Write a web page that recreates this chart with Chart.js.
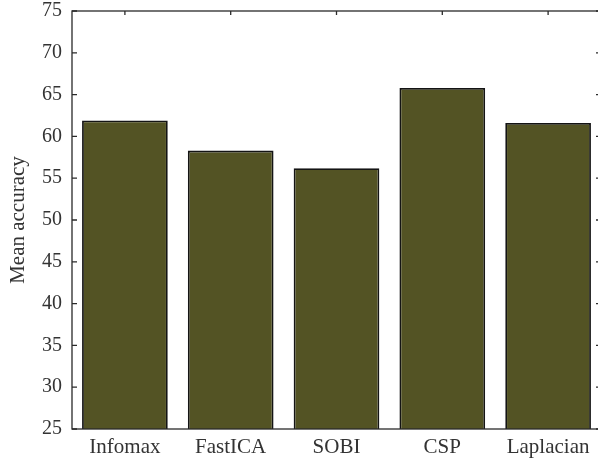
<!DOCTYPE html>
<html>
<head>
<meta charset="utf-8">
<title>Mean accuracy</title>
<script src="https://cdn.jsdelivr.net/npm/chart.js"></script>
<style>
  html, body { margin: 0; padding: 0; overflow: hidden; background: #fff; }
  #wrap { width: 606px; height: 458px; }
</style>
</head>
<body>
<div id="wrap"><canvas id="myChart"></canvas></div>
<script>
const methods = ['Infomax', 'FastICA', 'SOBI', 'CSP', 'Laplacian']
const meanAccuracy = [61.9, 58.3, 56.2, 65.8, 61.6]
const yMin = 25
const yMax = 75
const yStep = 5

const axisColor = '#2a2a2a'
const textColor = '#333'
const serif = { family: 'Liberation Serif', size: 20 }
const serifBig = { family: 'Liberation Serif', size: 21 }

// matlab-like box with inward ticks
const boxPlugin = {
  id: 'box',
  afterDatasetsDraw(chart) {
    const { ctx, chartArea: a, scales } = chart
    ctx.save()
    ctx.strokeStyle = axisColor
    ctx.lineWidth = 1.3
    ctx.strokeRect(a.left, a.top, a.right - a.left, a.bottom - a.top)
    ctx.beginPath()
    scales.y.ticks.forEach(t => {
      const y = scales.y.getPixelForValue(t.value)
      ctx.moveTo(a.left, y)
      ctx.lineTo(a.left + 5, y)
      ctx.moveTo(a.right, y)
      ctx.lineTo(a.right - 5, y)
    })
    methods.forEach((m, i) => {
      const x = scales.x.getPixelForTick(i)
      ctx.moveTo(x, a.top)
      ctx.lineTo(x, a.top + 4)
    })
    ctx.stroke()
    ctx.restore()
  }
}

const ctx = document.getElementById('myChart').getContext('2d')
const myChart = new Chart(ctx, {
  type: 'bar',
  data: {
    labels: methods,
    datasets: [{
      label: 'Mean accuracy',
      data: meanAccuracy,
      backgroundColor: '#535324',
      borderColor: '#141414',
      borderWidth: 1.8,
      barPercentage: 0.81,
      categoryPercentage: 1
    }]
  },
  options: {
    responsive: true,
    maintainAspectRatio: false,
    animation: false,
    layout: { padding: { left: 0, right: 5, top: 11, bottom: 0 } },
    plugins: {
      legend: { display: false },
      tooltip: { enabled: false }
    },
    scales: {
      x: {
        grid: { display: false, drawTicks: false },
        border: { display: false },
        ticks: {
          color: textColor,
          padding: 6,
          font: serifBig
        },
        afterFit(scale) {
          scale.height = 29
          scale.paddingLeft = 0
          scale.paddingRight = 0
        }
      },
      y: {
        min: yMin,
        max: yMax,
        grid: { display: false, drawTicks: false },
        border: { display: false },
        ticks: {
          stepSize: yStep,
          color: textColor,
          padding: 10,
          font: serif
        },
        title: {
          display: true,
          text: 'Mean accuracy',
          color: textColor,
          padding: { top: 6, bottom: 0 },
          font: serifBig
        },
        afterFit(scale) {
          scale.width = 72
          scale.paddingTop = 0
          scale.paddingBottom = 0
        }
      }
    }
  },
  plugins: [boxPlugin]
})
</script>
</body>
</html>
